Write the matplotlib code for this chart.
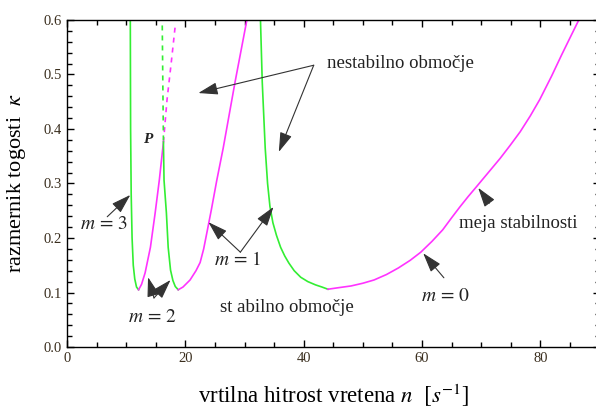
import numpy as np
import matplotlib.pyplot as plt
from matplotlib.ticker import MultipleLocator, FormatStrFormatter

plt.rcParams['font.family'] = ['Liberation Serif', 'DejaVu Serif']
plt.rcParams['mathtext.fontset'] = 'stix'

# lobe data (n [1/s], kappa)
lobe2_green_x = [10.7, 10.75, 10.85, 11.0, 11.2, 11.45, 11.75, 12.1]
lobe2_green_y = [0.60, 0.40, 0.28, 0.20, 0.15, 0.125, 0.110, 0.105]
lobe2_mag_x = [12.1, 12.6, 13.2, 14.1, 14.9, 15.6, 16.3]
lobe2_mag_y = [0.105, 0.115, 0.136, 0.183, 0.246, 0.306, 0.376]
lobe2_mag_dash_x = [16.3, 16.9, 17.6, 18.3]
lobe2_mag_dash_y = [0.376, 0.453, 0.52, 0.59]

lobe1_green_dash_x = [16.1, 16.2, 16.3]
lobe1_green_dash_y = [0.59, 0.48, 0.376]
lobe1_green_x = [16.3, 16.4, 16.8, 17.1, 17.5, 17.9, 18.3, 18.8]
lobe1_green_y = [0.376, 0.306, 0.246, 0.183, 0.141, 0.122, 0.111, 0.105]
lobe1_mag_x = [18.8, 19.6, 20.8, 21.8, 22.5, 23.1, 23.7, 24.4, 25.3, 26.4, 28.4, 30.4]
lobe1_mag_y = [0.105, 0.110, 0.123, 0.140, 0.155, 0.180, 0.213, 0.252, 0.305, 0.365, 0.486, 0.600]

lobe0_green_x = [32.7, 33.0, 33.5, 33.9, 34.3, 34.8, 35.4, 36.1, 36.8, 37.5, 38.4, 39.5, 40.7, 42.0, 43.1, 44.1]
lobe0_green_y = [0.6, 0.486, 0.365, 0.300, 0.258, 0.228, 0.205, 0.183, 0.167, 0.154, 0.140, 0.128, 0.120, 0.114, 0.110, 0.106]
lobe0_mag_x = [44.1, 46.0, 48.0, 50.0, 51.9, 54.0, 56.0, 58.0, 59.8, 61.7, 63.5, 65.0, 66.4, 67.8,
               69.2, 71.2, 73.2, 74.9, 76.6, 78.3, 79.9, 81.9, 83.6, 85.0, 86.5]
lobe0_mag_y = [0.106, 0.109, 0.112, 0.117, 0.123, 0.133, 0.145, 0.159, 0.174, 0.194, 0.215, 0.237,
               0.257, 0.276, 0.294, 0.320, 0.346, 0.370, 0.395, 0.424, 0.454, 0.497, 0.536, 0.567, 0.6]

green = '#33ee33'
magenta = '#ff33ff'
txtcol = '#222222'

fig = plt.figure(figsize=(5.96, 4.08), dpi=100)
ax = fig.add_axes([67/596, 1-347/408, 532.5/596, 327/408])

lw = 1.2
ax.plot(lobe2_green_x, lobe2_green_y, color=green, lw=lw)
ax.plot(lobe2_mag_x, lobe2_mag_y, color=magenta, lw=lw)
ax.plot(lobe2_mag_dash_x, lobe2_mag_dash_y, color=magenta, lw=lw, ls=(0, (3, 3)))
ax.plot(lobe1_green_dash_x, lobe1_green_dash_y, color=green, lw=lw, ls=(0, (3, 3)))
ax.plot(lobe1_green_x, lobe1_green_y, color=green, lw=lw)
ax.plot(lobe1_mag_x, lobe1_mag_y, color=magenta, lw=lw)
ax.plot(lobe0_green_x, lobe0_green_y, color=green, lw=lw)
ax.plot(lobe0_mag_x, lobe0_mag_y, color=magenta, lw=lw)

ax.set_xlim(0, 90)
ax.set_ylim(0, 0.6)
ax.xaxis.set_major_locator(MultipleLocator(20))
ax.xaxis.set_minor_locator(MultipleLocator(5))
ax.yaxis.set_major_locator(MultipleLocator(0.1))
ax.yaxis.set_minor_locator(MultipleLocator(0.02))
ax.yaxis.set_major_formatter(FormatStrFormatter('%.1f'))
ax.tick_params(which='both', direction='in', top=True, right=True, width=1, labelsize=10.5,
               labelcolor='#3a2e1e')
ax.tick_params(which='major', length=5)
ax.tick_params(which='minor', length=3.5)
for s in ax.spines.values():
    s.set_linewidth(1)

ax.set_xlabel('vrtilna hitrost vretena $n$  $[s^{-1}]$', fontsize=16.5, labelpad=12)
ax.set_ylabel(r'razmernik togosti  $\kappa$', fontsize=16, labelpad=11)

arr = dict(arrowstyle='-|>,head_length=1.2,head_width=0.38', color='#333333', lw=0.8,
           shrinkA=0, shrinkB=0)
fs = 13.5
fm = 14

# nestabilno obmocje
ax.text(44.0, 0.52, 'nestabilno območje', fontsize=fs, va='center', ha='left', color=txtcol)
ax.annotate('', xy=(22.2, 0.466), xytext=(41.7, 0.517), arrowprops=arr)
ax.annotate('', xy=(35.8, 0.358), xytext=(41.7, 0.517), arrowprops=arr)

ax.text(13.6, 0.38, 'P', fontsize=11, ha='center', va='center', style='italic',
        weight='bold', color=txtcol)

# m labels
ax.text(6.3, 0.224, r'$m\,=\,3$', fontsize=fm, ha='center', va='center', color=txtcol)
ax.annotate('', xy=(10.7, 0.279), xytext=(6.8, 0.239), arrowprops=arr)

ax.text(14.4, 0.055, r'$m\,=\,2$', fontsize=fm, ha='center', va='center', color=txtcol)
ax.annotate('', xy=(13.7, 0.128), xytext=(14.7, 0.09), arrowprops=arr)
ax.annotate('', xy=(17.5, 0.123), xytext=(14.7, 0.09), arrowprops=arr)

ax.text(28.8, 0.16, r'$m\,=\,1$', fontsize=fm, ha='center', va='center', color=txtcol)
ax.annotate('', xy=(23.9, 0.229), xytext=(29.3, 0.174), arrowprops=arr)
ax.annotate('', xy=(34.9, 0.257), xytext=(29.3, 0.174), arrowprops=arr)

ax.text(37.1, 0.072, 'st abilno območje', fontsize=fs, ha='center', va='center', color=txtcol)

ax.text(63.9, 0.092, r'$m\,=\,0$', fontsize=fm, ha='center', va='center', color=txtcol)
ax.annotate('', xy=(60.2, 0.172), xytext=(63.7, 0.127), arrowprops=arr)

ax.text(76.3, 0.226, 'meja stabilnosti', fontsize=fs, ha='center', va='center', color=txtcol)
ax.annotate('', xy=(69.5, 0.292), xytext=(71.4, 0.264), arrowprops=arr)

plt.savefig('out.png', dpi=100)
